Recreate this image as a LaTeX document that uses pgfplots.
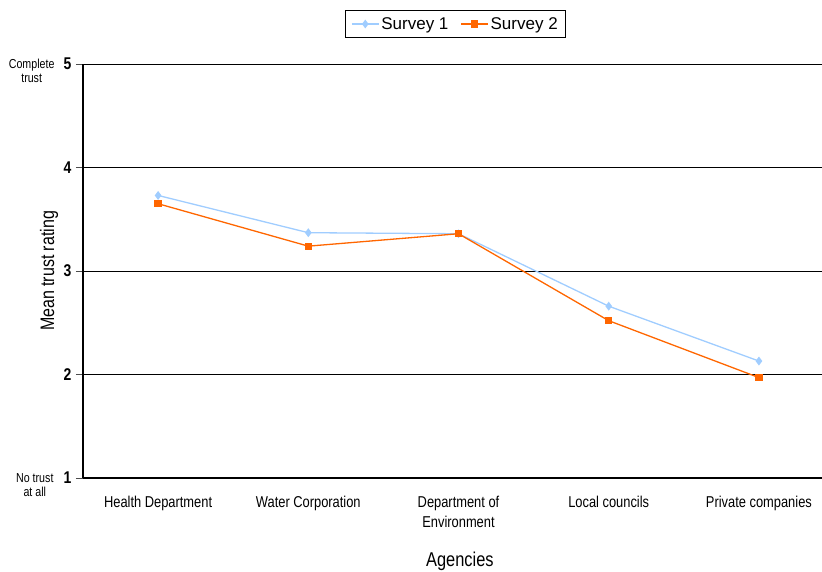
\documentclass[border=0pt]{standalone}
\usepackage{pgfplots}
\pgfplotsset{compat=1.18}
\usepackage{fontspec}
\setmainfont{Liberation Sans}[FakeStretch=0.82]
\newfontfamily\legfont{Liberation Sans}
\definecolor{sone}{RGB}{160,205,255}
\definecolor{stwo}{RGB}{255,102,0}
\begin{document}
\begin{tikzpicture}
\useasboundingbox (-83bp,-94bp) rectangle (739bp,478bp);
\begin{axis}[
  at={(0,0)}, anchor=south west,
  scale only axis, width=739bp, height=414bp,
  xmin=-0.5, xmax=4.42, ymin=1, ymax=5,
  axis x line*=bottom, axis y line*=left,
  axis line style={black, line width=1.1bp, -},
  xtick={0,1,2,3,4},
  xticklabels={Health Department, Water Corporation, {Department of\\Environment}, Local councils, Private companies},
  xticklabel style={align=center, font=\fontsize{15.7bp}{20bp}\selectfont, yshift=-8bp},
  x tick style={draw=none},
  extra x ticks={-0.5,0.5,1.5,2.5,3.5},
  extra x tick labels={},
  extra x tick style={tick style={draw=black!70, line width=0.8bp}, major tick length=6bp, tick align=outside, grid=none},
  ytick={1,2,3,4,5},
  yticklabel style={font=\fontsize{17bp}{18bp}\selectfont\bfseries, xshift=-1bp},
  /pgf/number format/assume math mode=true,
  y tick style={draw=black!70, line width=0.8bp},
  major tick length=7bp, tick align=outside,
  ymajorgrids, grid style={black, line width=0.9bp},
  xlabel={Agencies},
  xlabel style={at={(axis description cs:0.51,0)}, anchor=center, yshift=-83bp, font=\fontsize{20bp}{22bp}\selectfont},
  ylabel={Mean trust rating},
  ylabel style={at={(axis description cs:-0.046,0.5)}, anchor=center, font=\fontsize{19.5bp}{22bp}\selectfont},
  legend columns=2,
  legend style={at={(0.504,1.0966)}, anchor=center, draw=black, line width=0.8bp,
    font=\fontsize{17bp}{19bp}\legfont,
    /tikz/every even column/.append style={column sep=10bp},
    inner xsep=6bp, inner ysep=5bp},
  legend image code/.code={\draw[mark repeat=2,mark phase=2] plot coordinates {(0bp,0bp)(13.5bp,0bp)(27bp,0bp)};},
  legend image post style={line width=1.2bp},
  clip=false,
]
\addplot[color=sone, line width=1.3bp, mark=diamond*, mark size=3.4bp, mark options={fill=sone, draw=sone}]
  coordinates {(0,3.73) (1,3.37) (2,3.36) (3,2.66) (4,2.13)};
\addlegendentry{Survey 1}
\addplot[color=stwo, line width=1.3bp, mark=square*, mark size=3bp, mark options={fill=stwo, draw=stwo}]
  coordinates {(0,3.65) (1,3.24) (2,3.36) (3,2.52) (4,1.97)};
\addlegendentry{Survey 2}
\node[anchor=north east, align=center, font=\fontsize{13bp}{14bp}\selectfont, xshift=-25bp, yshift=8bp] at (rel axis cs:0,1) {Complete\\trust};
\node[anchor=north east, align=center, font=\fontsize{13bp}{14bp}\selectfont, xshift=-26bp, yshift=8bp] at (rel axis cs:0,0) {No trust\\at all};
\end{axis}
\end{tikzpicture}
\end{document}
